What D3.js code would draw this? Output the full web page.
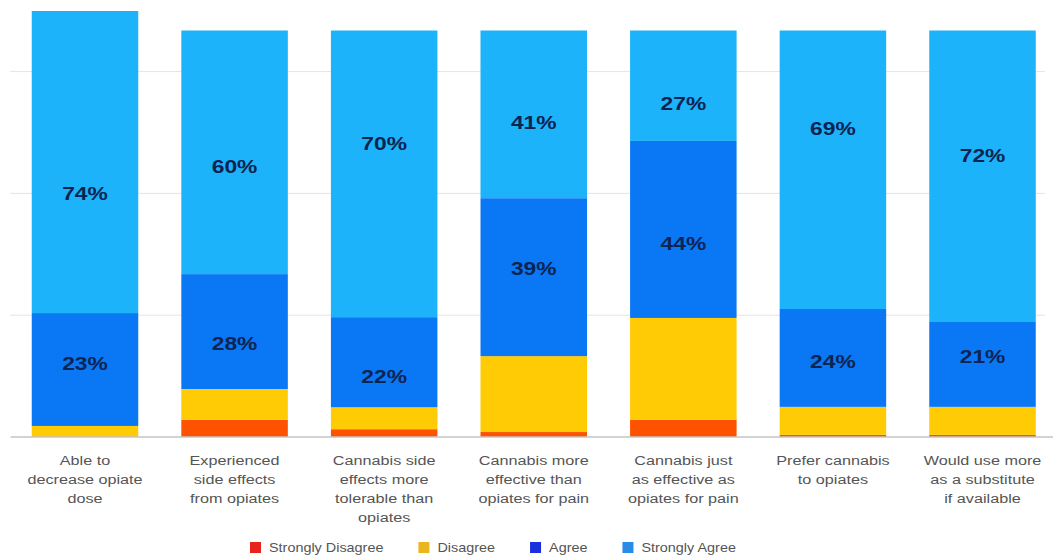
<!DOCTYPE html>
<html>
<head>
<meta charset="utf-8">
<script src="https://cdn.jsdelivr.net/npm/d3@7"></script>
<style>
  html, body { margin: 0; padding: 0; background: #fff; }
  svg { display: block; }
</style>
</head>
<body>
<svg id="chart" width="1053" height="558"></svg>
<script>
// ---- data ----
const categories = [
  "Able to decrease opiate dose",
  "Experienced side effects from opiates",
  "Cannabis side effects more tolerable than opiates",
  "Cannabis more effective than opiates for pain",
  "Cannabis just as effective as opiates for pain",
  "Prefer cannabis to opiates",
  "Would use more as a substitute if available"
];
const categoryLines = [
  ["Able to", "decrease opiate", "dose"],
  ["Experienced", "side effects", "from opiates"],
  ["Cannabis side", "effects more", "tolerable than", "opiates"],
  ["Cannabis more", "effective than", "opiates for pain"],
  ["Cannabis just", "as effective as", "opiates for pain"],
  ["Prefer cannabis", "to opiates"],
  ["Would use more", "as a substitute", "if available"]
];
const seriesNames = ["Strongly Disagree", "Disagree", "Agree", "Strongly Agree"];
// segment sizes as drawn (percent)
const stronglyDisagree = [0.0, 4.1, 1.8, 1.1, 4.1, 0.4, 0.4];
const disagree         = [2.6, 7.6, 5.4, 18.7, 25.1, 6.9, 6.9];
const agree            = [27.8, 28.3, 22.2, 38.9, 43.6, 24.1, 20.9];
const stronglyAgree    = [74.4, 60.0, 70.6, 41.3, 27.2, 68.6, 71.8];
// printed labels
const agreeLabels         = ["23%", "28%", "22%", "39%", "44%", "24%", "21%"];
const stronglyAgreeLabels = ["74%", "60%", "70%", "41%", "27%", "69%", "72%"];
// where the printed labels sit (percent level on the value axis)
const agreeLabelLevel         = [18.1, 23.0, 14.9, 41.5, 47.7, 18.6, 19.8];
const stronglyAgreeLabelLevel = [60.0, 66.6, 72.3, 77.5, 82.1, 76.0, 69.3];
const gridTicks = [30, 60, 90];

// ---- styles ----
const barColors = ["#fd5200", "#ffcb05", "#0a78f4", "#1cb3fa"];
const legendColors = ["#e8221c", "#e9b61e", "#1a30de", "#2a8ae8"];
const FONT = "'Liberation Sans', Arial, Helvetica, sans-serif";
const SX = 1.2;

const svg = d3.select("#chart");

const x = d3.scaleBand()
  .domain(categories)
  .range([10.2, 1057.3])
  .paddingInner(0.288)
  .paddingOuter(0.144);

const y = d3.scaleLinear().domain([0, 100]).range([436.5, 30.5]);

// gridlines
const grid = svg.append("g")
  .attr("transform", "translate(10,0)")
  .call(d3.axisLeft(y).tickValues(gridTicks).tickSize(-1035).tickFormat(""));
grid.select(".domain").remove();
grid.selectAll(".tick line").attr("stroke", "#e4e4e4").attr("stroke-width", 1);

// stacked data
const rows = categories.map((c, i) => ({
  cat: c,
  "Strongly Disagree": stronglyDisagree[i],
  "Disagree": disagree[i],
  "Agree": agree[i],
  "Strongly Agree": stronglyAgree[i]
}));
const stack = d3.stack().keys(seriesNames)(rows);

svg.append("g").selectAll("g")
  .data(stack)
  .join("g")
  .attr("fill", (d, i) => barColors[i])
  .selectAll("rect")
  .data(d => d)
  .join("rect")
  .attr("x", d => x(d.data.cat))
  .attr("width", x.bandwidth())
  .attr("y", d => y(d[1]))
  .attr("height", d => Math.max(0, y(d[0]) - y(d[1])));

// baseline axis
const xAxis = svg.append("g")
  .attr("transform", `translate(0,${y(0)})`)
  .call(d3.axisBottom(d3.scaleLinear().domain([0, 1]).range([10, 1053])).tickValues([]).tickSizeOuter(0));
xAxis.select(".domain").attr("stroke", "#a8a8a8").attr("stroke-width", 1.2);

// value labels
function addLabels(labels, levels) {
  svg.append("g").selectAll("text")
    .data(categories)
    .join("text")
    .attr("transform", (c, i) => `translate(${x(c) + x.bandwidth() / 2},${y(levels[i])}) scale(${SX},1)`)
    .attr("text-anchor", "middle")
    .attr("dy", "0.36em")
    .attr("font-family", FONT)
    .attr("font-weight", "bold")
    .attr("font-size", 19)
    .attr("fill", "#0c2452")
    .text((c, i) => labels[i]);
}
addLabels(stronglyAgreeLabels, stronglyAgreeLabelLevel);
addLabels(agreeLabels, agreeLabelLevel);

// category labels
const catG = svg.append("g");
categories.forEach((c, i) => {
  const t = catG.append("text")
    .attr("transform", `translate(${x(c) + x.bandwidth() / 2},464.5) scale(${SX},1)`)
    .attr("text-anchor", "middle")
    .attr("font-family", FONT)
    .attr("font-size", 13.5)
    .attr("fill", "#555");
  categoryLines[i].forEach((ln, j) => {
    t.append("tspan").attr("x", 0).attr("dy", j === 0 ? 0 : 19.3).text(ln);
  });
});

// legend
const leg = svg.append("g");
let lx = 250;
seriesNames.forEach((s, i) => {
  leg.append("rect")
    .attr("x", lx).attr("y", 542).attr("width", 11).attr("height", 11)
    .attr("fill", legendColors[i]);
  const t = leg.append("text")
    .attr("transform", `translate(${lx + 19},552) scale(${SX},1)`)
    .attr("font-family", FONT)
    .attr("font-size", 12)
    .attr("fill", "#555")
    .text(s);
  const w = t.node().getComputedTextLength() * SX;
  lx = lx + 19 + w + 35;
});
</script>
</body>
</html>
